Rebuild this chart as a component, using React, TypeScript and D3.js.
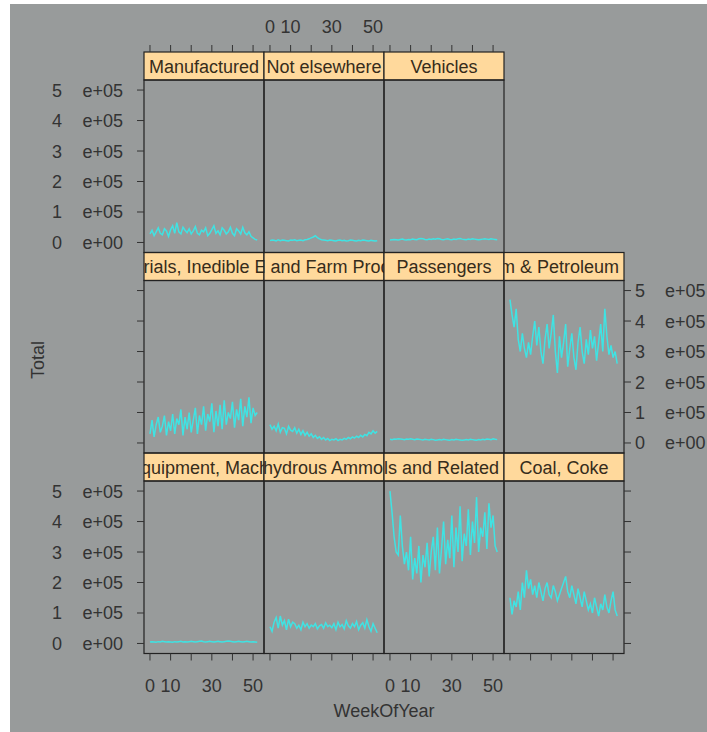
import React from 'react';
import * as d3 from 'd3';

// panel order follows lattice: bottom row first, left to right
const commodities = [
  'All Manufactured Equipment, Machinery and Products',
  'Anhydrous Ammonia',
  'Chemicals and Related Products',
  'Coal, Coke',
  'Crude Materials, Inedible Except Fuels',
  'Food and Farm Products',
  'Passengers',
  'Petroleum & Petroleum Products',
  'Manufactured',
  'Not elsewhere',
  'Vehicles',
];

const weeks = d3.range(0, 53);

// weekly totals, in thousands
const equipment = [5,6,5,4,6,5,7,6,5,6,5,4,6,5,6,7,5,6,5,6,7,6,5,6,7,8,6,5,6,7,6,5,6,7,6,5,6,7,8,7,6,5,6,7,6,5,6,7,6,5,6,5,4];
const ammonia = [55,40,70,85,50,90,60,75,45,80,55,70,65,50,60,45,70,55,65,50,60,55,65,48,58,62,50,68,55,60,52,65,45,70,55,62,48,75,58,50,65,55,72,45,60,68,50,78,55,40,65,50,35];
const chemicals = [500,430,350,300,290,420,320,260,300,240,350,210,280,230,320,200,290,250,330,220,300,350,240,380,230,310,400,260,340,280,420,250,380,300,450,270,360,320,440,290,400,330,480,300,380,350,430,310,460,380,420,320,300];
const coal = [150,95,140,120,170,110,200,150,240,180,210,160,190,150,200,170,140,180,200,160,150,190,170,140,160,180,200,220,170,150,190,160,130,180,150,120,170,140,110,130,100,150,120,90,130,110,160,120,100,140,170,110,90];
const crude = [30,75,20,60,85,35,55,90,25,70,40,95,30,80,60,110,25,85,45,100,35,75,115,30,90,60,120,40,95,70,130,35,105,55,125,45,140,60,100,80,135,50,110,75,145,55,120,85,150,65,115,90,100];
const food = [60,45,55,40,62,35,50,48,30,55,42,38,50,32,45,28,40,25,35,22,30,18,25,15,20,12,18,10,15,8,12,10,14,8,12,10,15,12,18,14,20,16,22,18,25,20,28,24,35,30,40,32,38];
const passengers = [12,11,13,12,14,13,12,11,13,12,14,12,11,13,12,11,10,12,11,10,12,11,9,10,11,10,12,11,10,9,11,10,12,11,10,9,10,11,10,12,11,10,9,11,10,12,11,13,12,11,14,12,11];
const petroleum = [470,420,380,440,340,300,360,310,280,330,290,350,400,320,380,300,260,340,390,310,360,420,300,230,350,280,330,390,250,310,360,280,240,330,380,300,260,340,290,370,310,350,270,330,390,300,440,350,290,320,280,300,260];
const manufactured = [28,40,22,35,48,30,25,45,38,20,42,55,30,65,35,28,50,40,32,45,28,38,52,30,25,40,35,48,22,30,42,55,30,38,25,48,40,28,35,50,30,22,45,38,28,50,32,25,35,20,15,10,8];
const notElsewhere = [6,8,7,5,9,6,8,7,6,5,8,7,9,6,7,8,6,9,10,12,15,18,22,16,12,9,8,7,6,8,7,6,5,7,8,6,7,5,6,8,7,6,5,7,6,8,7,6,5,7,6,5,6];
const vehicles = [8,9,10,9,8,10,11,9,8,10,9,11,10,9,12,13,12,10,9,11,10,12,11,13,12,10,9,11,12,10,9,11,10,12,13,11,10,9,11,10,12,11,10,9,10,11,12,11,10,12,11,10,9];

const series = [equipment, ammonia, chemicals, coal, crude, food, passengers, petroleum, manufactured, notElsewhere, vehicles];

const xTicks = [0, 10, 20, 30, 40, 50];
const xTickLabels = ['0', '10', '', '30', '', '50'];
const yTicks = [0, 100000, 200000, 300000, 400000, 500000];
const yMantissa = ['0', '1', '2', '3', '4', '5'];
const yExponent = ['e+00', 'e+05', 'e+05', 'e+05', 'e+05', 'e+05'];

const W = 707;
const H = 732;
const left = 144;
const colW = 120;
const top = 52;
const rowH = 200.5;
const stripH = 28;
const nCols = 4;
const nRows = 3;

const font = '"Liberation Sans", Arial, sans-serif';
const axisCol = '#333';

export default function App() {
  const x = d3.scaleLinear().domain([-2.9, 55.3]).range([0, colW]);
  const yBase = d3.scaleLinear().domain([-32900, 533000]).range([rowH - stripH, 0]);
  const line = d3.line<number>()
    .x((d, i) => x(weeks[i]))
    .y((d) => yBase(d * 1000));

  const panels = commodities.map((name, i) => {
    const col = i % nCols;
    const rowFromBottom = Math.floor(i / nCols);
    const row = nRows - 1 - rowFromBottom;
    return { name, values: series[i], col, row, x0: left + col * colW, y0: top + row * rowH };
  });

  const yLabels = (px: number, py: number, side: 'left' | 'right', labels: boolean) =>
    yTicks.map((t, k) => {
      const ty = py + stripH + yBase(t);
      return (
        <g key={k}>
          {side === 'left'
            ? <line x1={px - 7} x2={px} y1={ty} y2={ty} stroke={axisCol} />
            : <line x1={px + colW} x2={px + colW + 7} y1={ty} y2={ty} stroke={axisCol} />}
          {labels && side === 'left' && (
            <>
              <text x={px - 82} y={ty + 6.5} textAnchor="end">{yMantissa[k]}</text>
              <text x={px - 21} y={ty + 6.5} textAnchor="end">{yExponent[k]}</text>
            </>
          )}
          {labels && side === 'right' && (
            <>
              <text x={px + colW + 11} y={ty + 6.5}>{yMantissa[k]}</text>
              <text x={px + colW + 41} y={ty + 6.5}>{yExponent[k]}</text>
            </>
          )}
        </g>
      );
    });

  return (
    <svg width={W} height={H} style={{ position: 'absolute', left: 0, top: 0 }}
      fontFamily={font} fontSize={18}>
      <rect width={W} height={H} fill="#fff" />
      <rect x={10} y={4} width={W - 10} height={H - 4} fill="#989b9b" />
      <defs>
        {panels.map((p, i) => (
          <clipPath id={`strip${i}`} key={i}>
            <rect x={p.x0} y={p.y0} width={colW} height={stripH} />
          </clipPath>
        ))}
      </defs>

      {panels.map((p, i) => (
        <g key={i}>
          <rect x={p.x0} y={p.y0} width={colW} height={stripH} fill="#ffd99c" />
          <text clipPath={`url(#strip${i})`} x={p.x0 + colW / 2} y={p.y0 + 20.5}
            textAnchor="middle" fill="#362c1b">{p.name}</text>
          <rect x={p.x0} y={p.y0} width={colW} height={stripH} fill="none" stroke="#222" strokeWidth={1.2} />
          <g transform={`translate(${p.x0},${p.y0 + stripH})`}>
            <path d={line(p.values) || ''} fill="none" stroke="#3fe3e3" strokeWidth={1.5} />
          </g>
          <rect x={p.x0} y={p.y0 + stripH} width={colW} height={rowH - stripH} fill="none" stroke="#222" strokeWidth={1.2} />
        </g>
      ))}

      <g fill={axisCol}>
        {panels.filter((p) => p.col === 0).map((p, i) => (
          <g key={`l${i}`}>{yLabels(p.x0, p.y0, 'left', p.row !== 1)}</g>
        ))}
        {panels.filter((p) => p.col === nCols - 1).map((p, i) => (
          <g key={`r${i}`}>{yLabels(p.x0, p.y0, 'right', p.row === 1)}</g>
        ))}
        {panels.filter((p) => p.row === 0).map((p, i) => (
          <g key={`t${i}`}>
            {xTicks.map((t, k) => (
              <g key={k}>
                <line x1={p.x0 + x(t)} x2={p.x0 + x(t)} y1={p.y0 - 7} y2={p.y0} stroke={axisCol} />
                {p.col === 1 && <text x={p.x0 + x(t)} y={33} textAnchor="middle">{xTickLabels[k]}</text>}
              </g>
            ))}
          </g>
        ))}
        {panels.filter((p) => p.row === nRows - 1).map((p, i) => (
          <g key={`b${i}`}>
            {xTicks.map((t, k) => (
              <g key={k}>
                <line x1={p.x0 + x(t)} x2={p.x0 + x(t)} y1={p.y0 + rowH} y2={p.y0 + rowH + 7} stroke={axisCol} />
                {p.col % 2 === 0 && <text x={p.x0 + x(t)} y={692} textAnchor="middle">{xTickLabels[k]}</text>}
              </g>
            ))}
          </g>
        ))}
        <text x={left + (nCols * colW) / 2} y={717} textAnchor="middle">WeekOfYear</text>
        <text transform={`translate(44,360) rotate(-90)`} textAnchor="middle">Total</text>
      </g>
    </svg>
  );
}
